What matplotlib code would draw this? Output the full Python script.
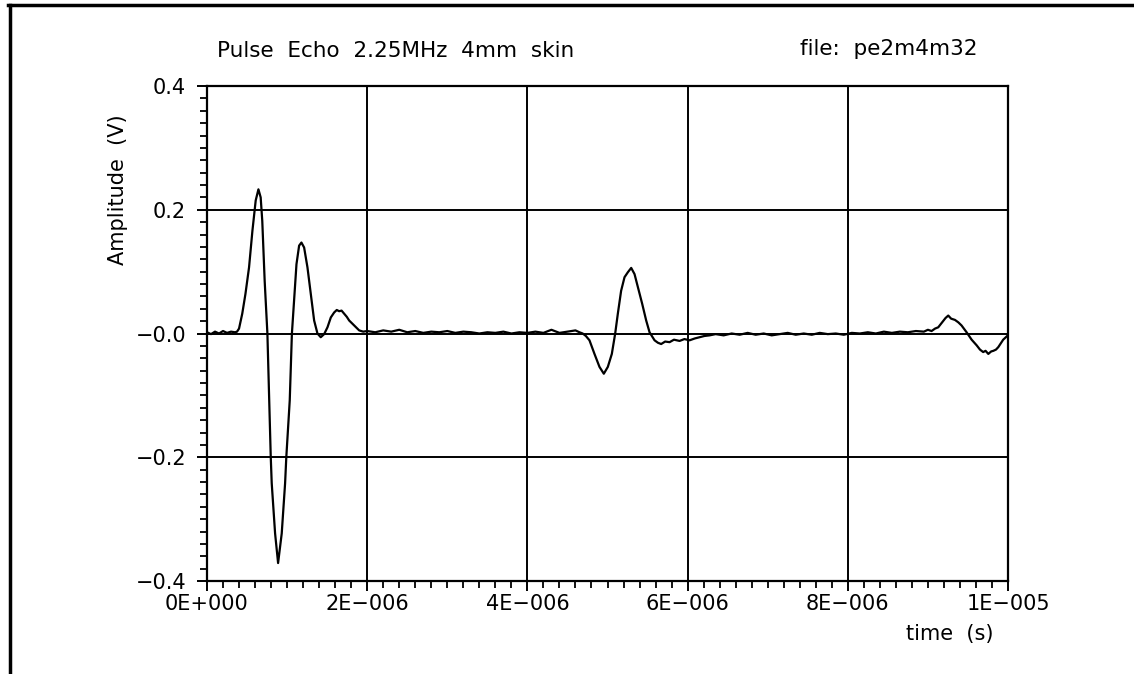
import numpy as np
import matplotlib
matplotlib.use("Agg")
import matplotlib.pyplot as plt
from matplotlib.lines import Line2D
from matplotlib.ticker import MultipleLocator

# waveform: time in microseconds, amplitude in volts
t_us = [0.00, 0.05, 0.10, 0.15, 0.20, 0.25, 0.30, 0.35, 0.375, 0.40,
        0.44, 0.48, 0.525, 0.567, 0.608, 0.642, 0.67, 0.69, 0.72, 0.754,
        0.796, 0.808, 0.85, 0.8875, 0.933, 0.975, 0.99, 1.033, 1.06, 1.0875,
        1.117, 1.15, 1.179, 1.2125, 1.254, 1.296, 1.3375, 1.379, 1.42, 1.4625,
        1.504, 1.546, 1.5875, 1.62, 1.65, 1.68, 1.7125, 1.745, 1.775, 1.8375,
        1.9, 1.95,
        2.0, 2.1, 2.2, 2.3, 2.4, 2.5, 2.6, 2.7, 2.8, 2.9,
        3.0, 3.1, 3.2, 3.3, 3.4, 3.5, 3.6, 3.7, 3.8, 3.9,
        4.0, 4.1, 4.2, 4.3, 4.4, 4.5, 4.6, 4.65,
        4.69, 4.73, 4.775, 4.8375, 4.9, 4.954, 5.004, 5.054, 5.096, 5.129,
        5.17, 5.2125, 5.254, 5.296, 5.3375, 5.379, 5.433, 5.483, 5.525, 5.5875,
        5.63, 5.67, 5.72, 5.775, 5.83, 5.9, 5.96, 6.025, 6.09, 6.15,
        6.21, 6.275,
        6.35, 6.45, 6.55, 6.65, 6.75, 6.85, 6.95, 7.05, 7.15, 7.25,
        7.35, 7.45, 7.55, 7.65, 7.75, 7.85, 7.95, 8.05, 8.15, 8.25,
        8.35, 8.45, 8.55, 8.65, 8.75, 8.85, 8.95, 9.0, 9.046, 9.09,
        9.129, 9.19, 9.22, 9.254, 9.29, 9.3375, 9.38, 9.42, 9.483, 9.546,
        9.608, 9.65, 9.69, 9.72, 9.754, 9.79, 9.817, 9.85, 9.879, 9.91,
        9.94, 9.99]
amp = [0.002, -0.001, 0.003, 0.000, 0.004, 0.001, 0.003, 0.002, 0.003, 0.008,
       0.032, 0.064, 0.107, 0.166, 0.215, 0.233, 0.220, 0.182, 0.085, 0.000,
       -0.200, -0.242, -0.323, -0.371, -0.323, -0.242, -0.200, -0.108, 0.000, 0.053,
       0.112, 0.142, 0.147, 0.139, 0.107, 0.064, 0.021, 0.000, -0.006, -0.001,
       0.010, 0.026, 0.034, 0.038, 0.036, 0.037, 0.032, 0.027, 0.021, 0.013,
       0.005, 0.003,
       0.004, 0.002, 0.005, 0.003, 0.006, 0.002, 0.004, 0.001, 0.003, 0.002,
       0.004, 0.001, 0.003, 0.002, 0.000, 0.002, 0.001, 0.003, 0.000, 0.002,
       0.001, 0.003, 0.001, 0.006, 0.001, 0.003, 0.005, 0.002,
       0.000, -0.004, -0.011, -0.033, -0.054, -0.065, -0.054, -0.033, 0.000, 0.032,
       0.069, 0.091, 0.099, 0.106, 0.096, 0.075, 0.048, 0.021, 0.002, -0.011,
       -0.015, -0.017, -0.013, -0.014, -0.010, -0.012, -0.009, -0.011, -0.008, -0.006,
       -0.004, -0.003,
       -0.001, -0.003, 0.000, -0.002, 0.001, -0.002, 0.000, -0.003, -0.001, 0.001,
       -0.002, 0.000, -0.002, 0.001, -0.001, 0.000, -0.002, 0.001, 0.000, 0.002,
       0.000, 0.003, 0.001, 0.003, 0.002, 0.004, 0.003, 0.006, 0.004, 0.008,
       0.010, 0.020, 0.025, 0.029, 0.024, 0.022, 0.018, 0.013, 0.002, -0.010,
       -0.019, -0.026, -0.030, -0.028, -0.033, -0.029, -0.028, -0.026, -0.022, -0.016,
       -0.010, -0.004]

x_ticks = [0, 2e-6, 4e-6, 6e-6, 8e-6, 1e-5]
x_ticklabels = ["0E+000", "2E\u2212006", "4E\u2212006", "6E\u2212006", "8E\u2212006", "1E\u2212005"]
y_ticks = [-0.4, -0.2, 0.0, 0.2, 0.4]
y_ticklabels = ["\u22120.4", "\u22120.2", "\u22120.0", "0.2", "0.4"]

plt.rcParams['font.family'] = ['DejaVu Sans']
fig = plt.figure(figsize=(11.34, 6.74), dpi=100)
# axes box: x 207..1008 px, y 86..581 px
ax = fig.add_axes([207/1134, 1 - 581/674, 801/1134, 495/674])

t = np.array(t_us) * 1e-6
ax.plot(t, amp, color='black', lw=1.6)

ax.set_xlim(0, 1e-5)
ax.set_ylim(-0.4, 0.4)
ax.set_xticks(x_ticks)
ax.set_xticklabels(x_ticklabels)
ax.set_yticks(y_ticks)
ax.set_yticklabels(y_ticklabels)
ax.xaxis.set_minor_locator(MultipleLocator(2e-7))
ax.yaxis.set_minor_locator(MultipleLocator(0.02))
ax.tick_params(which='major', direction='out', length=7, width=1.4, labelsize=15)
ax.tick_params(axis='y', which='major', pad=8)
ax.tick_params(axis='x', which='major', pad=2)
ax.tick_params(which='minor', direction='out', length=5, width=1.3)
ax.grid(True, which='major', color='black', lw=1.4)
for s in ax.spines.values():
    s.set_linewidth(1.6)

fig.text(217/1134, 1 - 51/674, "Pulse  Echo  2.25MHz  4mm  skin", fontsize=15.5, va='center', ha='left')
fig.text(800/1134, 1 - 49/674, "file:  pe2m4m32", fontsize=15.5, va='center', ha='left')
fig.text(993/1134, 1 - 634/674, "time  (s)", fontsize=15, va='center', ha='right')
fig.text(118/1134, 1 - 190/674, "Amplitude  (V)", fontsize=15, va='center', ha='center', rotation=90)

# outer frame
fig.add_artist(Line2D([8/1134, 1.0], [1 - 5/674, 1 - 5/674], color='black', lw=2.5))
fig.add_artist(Line2D([10/1134, 10/1134], [1 - 5/674, 0.0], color='black', lw=2.5))

fig.savefig("out.png", dpi=100)
